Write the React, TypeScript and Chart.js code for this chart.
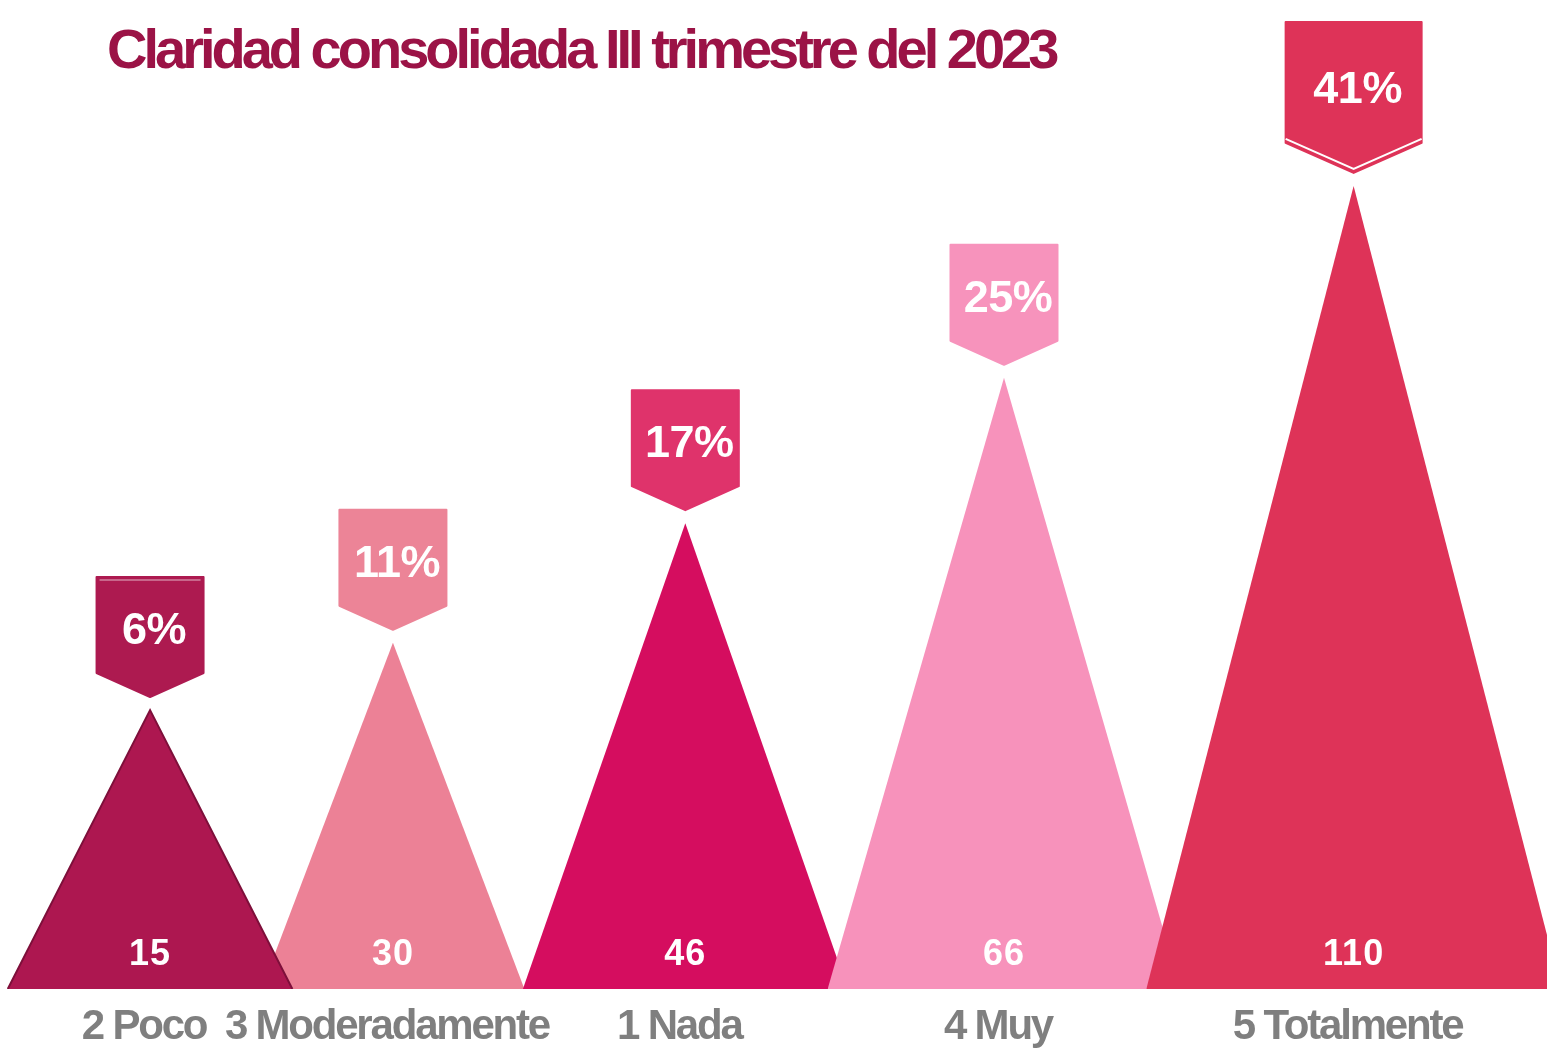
import React, { useEffect, useRef } from 'react';
import { Chart, registerables } from 'chart.js';

Chart.register(...registerables);

const chartTitle = 'Claridad consolidada III trimestre del 2023';
const categories = ['2 Poco', '3 Moderadamente', '1 Nada', '4 Muy', '5 Totalmente'];
const counts = [15, 30, 46, 66, 110];
const percentages = [6, 11, 17, 25, 41];
// visual height of each peak on the hidden 0–100 y axis
const peakHeights = [28.2, 35.0, 47.1, 61.8, 81.2];
// centre of each peak and half of its base on the hidden 0–100 x axis
const peakCenters = [9.7, 25.4, 44.3, 64.9, 87.5];
const baseHalfWidths = [9.2, 8.5, 10.5, 11.4, 13.4];

const peakColors = ['#ad1750', '#ec8196', '#d50d5f', '#f792bb', '#de3358'];
const calloutColors = ['#ad1a50', '#ec8497', '#df336b', '#f793bc', '#de3358'];
// stacking: lower value is drawn on top
const drawOrder = [3, 4, 2, 1, 0];

const W = 1547;
const H = 1049;

const overlayPlugin = {
  id: 'overlay',
  afterDatasetsDraw(chart: any) {
    const { ctx } = chart;
    const xs = chart.scales.x;
    const ys = chart.scales.y;
    const base = ys.getPixelForValue(0);
    const maxCount = Math.max(...counts);
    ctx.save();

    // title
    ctx.font = 'bold 56px "Liberation Sans", Arial, sans-serif';
    (ctx as any).letterSpacing = '-4px';
    ctx.fillStyle = '#9b1346';
    ctx.textAlign = 'left';
    ctx.textBaseline = 'alphabetic';
    ctx.fillText(chartTitle, 107, 68);

    categories.forEach((cat, i) => {
      const cx = xs.getPixelForValue(peakCenters[i]);
      const apexY = ys.getPixelForValue(peakHeights[i]);
      const big = counts[i] === maxCount;
      const w = big ? 136 : 107;
      const rectH = big ? 121 : 96;
      const chev = big ? 30 : 24;
      const tipY = apexY - 13;
      const top = tipY - chev - rectH;
      const l = cx - w / 2;
      const r = cx + w / 2;

      // callout
      ctx.beginPath();
      ctx.moveTo(l, top);
      ctx.lineTo(r, top);
      ctx.lineTo(r, top + rectH);
      ctx.lineTo(cx, tipY);
      ctx.lineTo(l, top + rectH);
      ctx.closePath();
      ctx.fillStyle = calloutColors[i];
      ctx.fill();
      ctx.lineJoin = 'round';
      ctx.lineWidth = 2;
      ctx.strokeStyle = calloutColors[i];
      ctx.stroke();

      if (big) {
        ctx.beginPath();
        ctx.moveTo(l, top + rectH - 4);
        ctx.lineTo(cx, tipY - 4);
        ctx.lineTo(r, top + rectH - 4);
        ctx.strokeStyle = '#ffffff';
        ctx.lineWidth = 2;
        ctx.lineJoin = 'miter';
        ctx.stroke();
      }
      if (i === 0) {
        ctx.beginPath();
        ctx.moveTo(l + 3, top + 3);
        ctx.lineTo(r - 3, top + 3);
        ctx.strokeStyle = 'rgba(255,255,255,0.45)';
        ctx.lineWidth = 1.5;
        ctx.stroke();
      }

      // percentage
      ctx.font = 'bold 45px "Liberation Sans", Arial, sans-serif';
      (ctx as any).letterSpacing = '-0.5px';
      ctx.fillStyle = '#ffffff';
      ctx.textAlign = 'center';
      ctx.textBaseline = 'middle';
      ctx.fillText(percentages[i] + '%', cx + 4, top + rectH * 0.57);

      // count
      ctx.font = 'bold 36px "Liberation Sans", Arial, sans-serif';
      (ctx as any).letterSpacing = '1px';
      ctx.fillText(String(counts[i]), cx, base - 34);

      // category label
      ctx.font = 'bold 42px "Liberation Sans", Arial, sans-serif';
      (ctx as any).letterSpacing = '-2.2px';
      ctx.fillStyle = '#7f7f7f';
      ctx.textBaseline = 'alphabetic';
      ctx.fillText(cat, cx - 6, base + 50);
    });

    ctx.restore();
  },
};

export default function App() {
  const ref = useRef<HTMLCanvasElement | null>(null);

  useEffect(() => {
    if (!ref.current) return;
    const datasets = categories.map((cat, i) => ({
      label: cat,
      data: [
        { x: peakCenters[i] - baseHalfWidths[i], y: 0 },
        { x: peakCenters[i], y: peakHeights[i] },
        { x: peakCenters[i] + baseHalfWidths[i], y: 0 },
      ],
      backgroundColor: peakColors[i],
      borderColor: i === 0 ? '#7e0f3a' : peakColors[i],
      borderWidth: i === 0 ? 2 : 0,
      fill: 'origin',
      tension: 0,
      pointRadius: 0,
      pointHoverRadius: 0,
      order: drawOrder[i],
    }));

    const chart = new Chart(ref.current, {
      type: 'line',
      data: { datasets },
      options: {
        responsive: false,
        animation: false,
        layout: { padding: { left: 0, right: 0, top: 0, bottom: H - 989 } },
        plugins: {
          legend: { display: false },
          tooltip: { enabled: false },
          title: { display: false },
        },
        scales: {
          x: { type: 'linear', min: 0, max: 100, display: false },
          y: { type: 'linear', min: 0, max: 100, display: false },
        },
      },
      plugins: [overlayPlugin],
    });
    return () => chart.destroy();
  }, []);

  return (
    <div style={{ position: 'absolute', left: 0, top: 0, width: W, height: H, background: '#ffffff' }}>
      <canvas ref={ref} width={W} height={H} style={{ width: W, height: H, display: 'block' }} />
    </div>
  );
}
